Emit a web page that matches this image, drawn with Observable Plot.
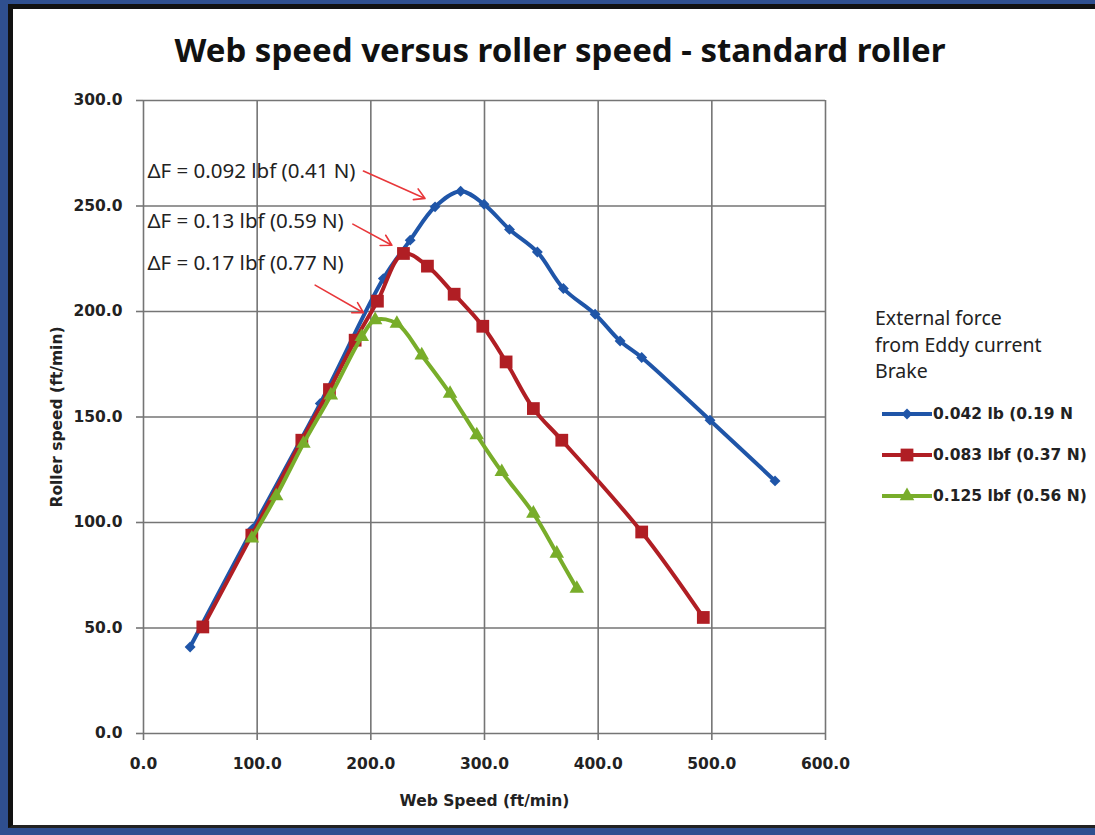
<!DOCTYPE html>
<html>
<head>
<meta charset="utf-8">
<script src="https://cdn.jsdelivr.net/npm/d3@7"></script>
<script src="https://cdn.jsdelivr.net/npm/@observablehq/plot@0.6"></script>
<style>
  html, body { margin: 0; padding: 0; }
  body { width: 1095px; height: 835px; background: #2f4f8f; position: relative; overflow: hidden; }
  #panel { position: absolute; left: 8px; top: 4px; width: 1090px; height: 824px; background: #fff;
           border-left: 5px solid #111; border-top: 5px solid #111; border-bottom: 3px solid #222; box-sizing: border-box; }
  #title { position: absolute; left: 0; width: 1120px; top: 27px; text-align: center;
           font-family: "Noto Sans", sans-serif; font-weight: 700; font-size: 33px; color: #111; }
  #chart { position: absolute; left: 0; top: 80px; }
  #legendHead { position: absolute; left: 875px; top: 305px; font-family: "Noto Sans", sans-serif;
                font-size: 19.5px; line-height: 26.5px; color: #222; }
  #legend { position: absolute; left: 870px; top: 394px; }
</style>
</head>
<body>
<div id="panel"></div>
<div id="title">Web speed versus roller speed - standard roller</div>
<div id="chart"></div>
<div id="legendHead">External force<br>from Eddy current<br>Brake</div>
<div id="legend"></div>
<script>
// ---- data ----
const seriesNames = ["0.042 lb (0.19 N", "0.083 lbf (0.37 N)", "0.125 lbf (0.56 N)"];
const seriesColors = ["#1f55a8", "#b01e24", "#78ad2a"];
const seriesSymbols = ["diamond2", "square", "triangle"];

const blueX = [41, 96, 155.5, 211, 234.6, 256.5, 279, 299.6, 322, 346.5, 369.4, 397.3, 419.3, 438.3, 498.4, 555.6];
const blueY = [41, 97, 156.4, 215.6, 233.8, 249.6, 257, 250.8, 238.9, 228.2, 210.9, 198.7, 186, 178.2, 148.5, 119.7];

const redX = [52.2, 95.3, 139.3, 163.6, 186.2, 205.8, 228.7, 249.8, 273.3, 298.5, 319, 343, 368, 438.3, 492.5];
const redY = [50.5, 94, 139, 163, 186.4, 204.9, 227.5, 221.5, 208.2, 193, 176.1, 154, 139, 95.5, 55];

const greenX = [95.3, 116.7, 140.7, 164.8, 192, 203.8, 222.9, 244.8, 269.7, 293.2, 315.2, 343, 363.6, 381.2];
const greenY = [92.5, 112.5, 137.4, 160.3, 188, 196, 194.3, 179.3, 161.1, 141.4, 124, 104.3, 85.3, 68.7];

const xTicks = [0, 100, 200, 300, 400, 500, 600];
const yTicks = [0, 50, 100, 150, 200, 250, 300];

const annoText = ["\u0394F = 0.092 lbf (0.41 N)", "\u0394F = 0.13 lbf (0.59 N)", "\u0394F = 0.17 lbf (0.77 N)"];
const annoX = [3.5, 3.5, 3.5];
const annoY = [266.2, 242.5, 222.7];
const arrowX1 = [193.5, 184.2, 151];
const arrowY1 = [266.6, 241.4, 212.5];
const arrowX2 = [247.7, 218.5, 193.5];
const arrowY2 = [253.6, 231.4, 199.4];

// ---- build tables ----
const seriesXs = [blueX, redX, greenX];
const seriesYs = [blueY, redY, greenY];
const series = seriesXs.map((xs, i) => xs.map((x, j) => ({x, y: seriesYs[i][j], s: i})));
const annos = annoText.map((t, i) => ({t, x: annoX[i], y: annoY[i]}));
const arrows = arrowX1.map((x1, i) => ({x1, y1: arrowY1[i], x2: arrowX2[i], y2: arrowY2[i]}));
const markerR = [4.9, 7.2, 5.4];

const gridStyle = {stroke: "#757575", strokeOpacity: 1, strokeWidth: 1.6};

const marks = [
  Plot.gridX(xTicks, gridStyle),
  Plot.gridY(yTicks, gridStyle),
  Plot.axisX(xTicks, {tickSize: 7, tickPadding: 17, stroke: "#757575", strokeWidth: 1.6,
    tickFormat: d => d.toFixed(1), label: "Web Speed (ft/min)", labelAnchor: "center", labelOffset: 72,
    labelArrow: "none", fill: "#222"}),
  Plot.axisY(yTicks, {tickSize: 7, tickPadding: 14, stroke: "#757575", strokeWidth: 1.6,
    tickFormat: d => d.toFixed(1), label: "Roller speed (ft/min)", labelAnchor: "center", labelOffset: 93,
    labelArrow: "none", fill: "#222"})
];
series.forEach((data, i) => {
  marks.push(Plot.line(data, {x: "x", y: "y", stroke: seriesColors[i], strokeWidth: 4, curve: "catmull-rom"}));
  marks.push(Plot.dot(data, {x: "x", y: "y", symbol: () => seriesSymbols[i], fill: seriesColors[i], stroke: "none", r: markerR[i]}));
});
marks.push(Plot.text(annos, {x: "x", y: "y", text: "t", textAnchor: "start", fontFamily: "Noto Sans",
  fontWeight: "normal", fontSize: 20.5, fill: "#222"}));
marks.push(Plot.arrow(arrows, {x1: "x1", y1: "y1", x2: "x2", y2: "y2", stroke: "#e8373a", strokeWidth: 1.6,
  headLength: 11}));

const plot = Plot.plot({
  width: 1095,
  height: 760,
  marginLeft: 143,
  marginRight: 270,
  marginTop: 20,
  marginBottom: 107,
  x: {domain: [0, 600]},
  y: {domain: [0, 300]},
  style: {fontFamily: "DejaVu Sans", fontSize: "15.5px", fontWeight: "bold", background: "transparent", color: "#222"},
  marks
});
document.getElementById("chart").appendChild(plot);

// ---- legend ----
const lg = d3.select("#legend").append("svg").attr("width", 225).attr("height", 120);
seriesNames.forEach((name, i) => {
  const cy = 20 + i * 41;
  lg.append("line").attr("x1", 12).attr("x2", 62).attr("y1", cy).attr("y2", cy)
    .attr("stroke", seriesColors[i]).attr("stroke-width", 4);
  const sym = {diamond2: d3.symbolDiamond2, square: d3.symbolSquare, triangle: d3.symbolTriangle}[seriesSymbols[i]];
  lg.append("path").attr("d", d3.symbol(sym, Math.PI * markerR[i] * markerR[i])())
    .attr("transform", `translate(37,${cy})`).attr("fill", seriesColors[i]);
  lg.append("text").attr("x", 63).attr("y", cy).attr("dy", "0.35em")
    .attr("font-family", "DejaVu Sans").attr("font-weight", "bold").attr("font-size", 15.5)
    .attr("fill", "#222").text(name);
});
</script>
</body>
</html>
